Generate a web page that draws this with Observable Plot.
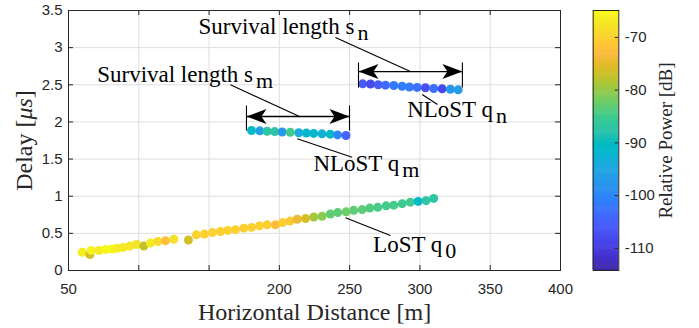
<!DOCTYPE html>
<html><head><meta charset="utf-8">
<script src="https://cdn.jsdelivr.net/npm/d3@7"></script>
<script src="https://cdn.jsdelivr.net/npm/@observablehq/plot@0.6"></script>
<style>
body{margin:0;background:#fff;}
#fig{position:relative;width:699px;height:328px;overflow:hidden;}
#fig svg{position:absolute;top:0;}
</style></head><body><div id="fig"></div>
<script>
// ---- data ----
const losX = [59.7, 65.2, 66.1, 71.6, 76.3, 81.1, 84.6, 88.9, 93.6, 98.4, 103.6, 108.3, 113.5, 119.0, 124.9, 135.3, 141.0, 146.7, 152.4, 158.1, 163.3, 168.8, 174.7, 180.2, 185.8, 191.3, 197.2, 202.2, 207.5, 212.7, 218.6, 224.5, 230.4, 236.3, 241.5, 247.5, 252.9, 258.9, 264.3, 270.0, 276.0, 281.4, 287.4, 293.2, 298.7, 304.4, 309.8];
const losDelay = [0.246, 0.215, 0.27, 0.27, 0.283, 0.29, 0.30, 0.31, 0.33, 0.35, 0.33, 0.37, 0.39, 0.40, 0.42, 0.41, 0.48, 0.49, 0.51, 0.525, 0.54, 0.55, 0.57, 0.58, 0.60, 0.615, 0.615, 0.645, 0.665, 0.69, 0.70, 0.72, 0.73, 0.76, 0.78, 0.79, 0.81, 0.82, 0.84, 0.85, 0.87, 0.88, 0.90, 0.92, 0.93, 0.94, 0.97];
const losPower = [-66.5, -76.5, -66, -67.3, -65.5, -65.3, -66.8, -67.3, -67.5, -68, -77.5, -67, -69, -72.5, -68.5, -76.5, -70.2, -70.2, -70, -70.2, -70.2, -70.2, -70.5, -70.2, -70.2, -70.5, -73, -70.5, -71, -74.5, -76.2, -79.2, -80.7, -83.1, -83.4, -82.4, -83.4, -83.4, -84.1, -84.6, -84.9, -84.9, -85.4, -85.4, -90.8, -87.1, -87.1];

const qmX = [180.2, 186.1, 191.3, 196.7, 202.0, 207.8, 213.8, 219.2, 224.4, 230.3, 236.2, 241.4, 247.4];
const qmDelay = [1.885, 1.88, 1.875, 1.87, 1.865, 1.86, 1.855, 1.85, 1.845, 1.84, 1.835, 1.825, 1.818];
const qmPower = [-91, -96, -87, -87.5, -97, -85, -94, -92, -92, -93, -91, -100, -105];

const qnX = [259.3, 264.8, 270.3, 275.5, 281.4, 287.3, 292.5, 298.0, 303.9, 309.8, 315.8, 321.7, 327.2];
const qnDelay = [2.513, 2.51, 2.50, 2.495, 2.49, 2.48, 2.47, 2.465, 2.46, 2.45, 2.445, 2.44, 2.432];
const qnPower = [-106, -108.5, -106, -104, -102, -101.5, -101.5, -103, -107.5, -103, -108.5, -97.5, -97];

const xTicks = [50, 100, 150, 200, 250, 300, 350, 400];
const xTickLabels = ["50", "", "", "200", "250", "300", "350", "400"];
const yTicks = [0, 0.5, 1, 1.5, 2, 2.5, 3, 3.5];
const yTickLabels = ["0", "0.5", "1", "1.5", "2", "2.5", "3", "3.5"];
const cTicks = [-110, -100, -90, -80, -70];
const powerDomain = [-114.2, -64.9];

const xLabel = "Horizontal Distance [m]";
const yLabel = "Delay [μs]";
const cLabel = "Relative Power [dB]";

// annotations (data coordinates)
const annoText = ["Survival length s", "Survival length s", "NLoST q", "NLoST q", "LoST q"];
const annoSub = ["n", "m", "n", "m", "0"];
const annoX = [142.5, 70.4, 290.9, 224.2, 266.7];
const annoY = [3.19, 2.544, 2.063, 1.336, 0.246];
const leaderX1 = [239.9, 165.2, 301.6, 212.7, 247.0];
const leaderY1 = [3.136, 2.499, 2.369, 1.773, 0.709];
const leaderX2 = [293.2, 214.3, 312.5, 251.8, 279.0];
const leaderY2 = [2.678, 2.073, 2.234, 1.525, 0.471];
const spanStart = [256.3, 176.6];
const spanEnd = [330.2, 249.9];
const spanY = [2.678, 2.073];
const spanBarLow = [2.463, 1.884];
const spanBarHigh = [2.80, 2.221];

// parula colormap
const parula = [[0.2422,0.1504,0.6603],[0.2504,0.1650,0.7076],[0.2578,0.1818,0.7511],[0.2647,0.1978,0.7952],[0.2706,0.2147,0.8364],[0.2751,0.2342,0.8710],[0.2783,0.2559,0.8991],[0.2803,0.2782,0.9221],[0.2813,0.3006,0.9414],[0.2810,0.3228,0.9579],[0.2795,0.3447,0.9717],[0.2760,0.3667,0.9829],[0.2699,0.3892,0.9906],[0.2602,0.4123,0.9952],[0.2440,0.4358,0.9988],[0.2206,0.4603,0.9973],[0.1963,0.4847,0.9892],[0.1834,0.5074,0.9798],[0.1786,0.5289,0.9682],[0.1764,0.5499,0.9520],[0.1687,0.5703,0.9359],[0.1540,0.5902,0.9218],[0.1460,0.6091,0.9079],[0.1380,0.6276,0.8973],[0.1248,0.6459,0.8883],[0.1113,0.6635,0.8763],[0.0952,0.6798,0.8598],[0.0689,0.6948,0.8394],[0.0297,0.7082,0.8163],[0.0036,0.7203,0.7917],[0.0067,0.7312,0.7660],[0.0433,0.7411,0.7394],[0.0964,0.7500,0.7120],[0.1408,0.7584,0.6842],[0.1717,0.7670,0.6554],[0.1938,0.7758,0.6251],[0.2161,0.7843,0.5923],[0.2470,0.7918,0.5567],[0.2906,0.7973,0.5188],[0.3406,0.8008,0.4789],[0.3909,0.8029,0.4354],[0.4456,0.8024,0.3909],[0.5044,0.7993,0.3480],[0.5616,0.7942,0.3045],[0.6174,0.7876,0.2612],[0.6720,0.7793,0.2227],[0.7242,0.7698,0.1910],[0.7738,0.7598,0.1646],[0.8203,0.7498,0.1535],[0.8634,0.7406,0.1596],[0.9035,0.7330,0.1774],[0.9393,0.7288,0.2100],[0.9728,0.7298,0.2394],[0.9956,0.7434,0.2371],[0.9970,0.7659,0.2199],[0.9952,0.7893,0.2028],[0.9892,0.8136,0.1885],[0.9786,0.8386,0.1766],[0.9676,0.8639,0.1643],[0.9610,0.8890,0.1537],[0.9597,0.9135,0.1423],[0.9628,0.9373,0.1265],[0.9691,0.9606,0.1064],[0.9769,0.9839,0.0805]]
  .map(([r,g,b]) => d3.rgb(r*255, g*255, b*255).formatHex());
const parulaInterp = d3.piecewise(d3.interpolateRgb, parula);

// ---- tables ----
const points = [
  ...losX.map((x, i) => ({x, delay: losDelay[i], power: losPower[i]})),
  ...qmX.map((x, i) => ({x, delay: qmDelay[i], power: qmPower[i]})),
  ...qnX.map((x, i) => ({x, delay: qnDelay[i], power: qnPower[i]}))
];
const annos = annoText.map((t, i) => ({t, x: annoX[i], y: annoY[i]}));
const leaders = leaderX1.map((x1, i) => ({x1, y1: leaderY1[i], x2: leaderX2[i], y2: leaderY2[i]}));
const spans = spanStart.map((s, i) => ({s, e: spanEnd[i], y: spanY[i], lo: spanBarLow[i], hi: spanBarHigh[i]}));
const heads = spans.flatMap(d => [{x: d.s, y: d.y, rot: 180}, {x: d.e, y: d.y, rot: 0}]);

const arrowHead = {draw(ctx) { ctx.moveTo(0, 0); ctx.lineTo(-20, -7.5); ctx.lineTo(-15, 0); ctx.lineTo(-20, 7.5); ctx.closePath(); }};
const ink = "#262626";
const serif = "Liberation Serif";
const colorScale = {type: "linear", domain: powerDomain, interpolate: parulaInterp};

const main = Plot.plot({
  width: 580, height: 328,
  marginLeft: 68, marginRight: 20, marginTop: 10, marginBottom: 58,
  x: {domain: [50, 400]},
  y: {domain: [0, 3.5]},
  color: colorScale,
  style: {fontFamily: "Liberation Sans", fontSize: "15px", color: ink, background: "white", overflow: "visible"},
  marks: [
    Plot.gridX(xTicks, {stroke: "#dedede", strokeOpacity: 1}),
    Plot.gridY(yTicks, {stroke: "#dedede", strokeOpacity: 1}),
    Plot.axisX(xTicks, {tickSize: 0, tickPadding: 13, tickFormat: d => xTickLabels[xTicks.indexOf(d)], label: null}),
    Plot.axisY(yTicks, {tickSize: 0, tickPadding: 6, tickFormat: d => yTickLabels[yTicks.indexOf(d)], label: null}),
    Plot.tickX(xTicks, {x: d => d, insetTop: 255, stroke: ink}),
    Plot.tickX(xTicks, {x: d => d, insetBottom: 255, stroke: ink}),
    Plot.tickY(yTicks, {y: d => d, insetRight: 487, stroke: ink}),
    Plot.tickY(yTicks, {y: d => d, insetLeft: 487, stroke: ink}),
    Plot.frame({stroke: ink}),
    Plot.dot(points, {x: "x", y: "delay", fill: "power", r: 4.5}),
    Plot.link(leaders, {x1: "x1", y1: "y1", x2: "x2", y2: "y2", stroke: "black", strokeWidth: 1.1}),
    Plot.link(spans, {x1: "s", x2: "e", y1: "y", y2: "y", stroke: "black", strokeWidth: 1.3}),
    Plot.link(spans, {x1: "s", x2: "s", y1: "lo", y2: "hi", stroke: "black", strokeWidth: 1.1}),
    Plot.link(spans, {x1: "e", x2: "e", y1: "lo", y2: "hi", stroke: "black", strokeWidth: 1.1}),
    Plot.dot(heads, {x: "x", y: "y", rotate: "rot", symbol: arrowHead, fill: "black", stroke: "none", r: 5}),
    Plot.text(annos, {x: "x", y: "y", text: "t", textAnchor: "start", lineAnchor: "bottom", fontFamily: serif, fontSize: 23, fill: "black"}),
    Plot.text([xLabel], {frameAnchor: "bottom", dy: 49.3, textAnchor: "middle", lineAnchor: "bottom", fontFamily: serif, fontSize: 24, fill: ink}),
    Plot.text([yLabel], {frameAnchor: "left", dx: -36.3, rotate: -90, textAnchor: "middle", lineAnchor: "bottom", fontFamily: serif, fontSize: 24, fill: ink})
  ]
});

const SVGNS = "http://www.w3.org/2000/svg";
// subscripts on annotations (matched by content, in document order)
let ai = 0;
main.querySelectorAll("text").forEach(el => {
  if (ai < annoText.length && el.textContent === annoText[ai]) {
    const ts = document.createElementNS(SVGNS, "tspan");
    ts.setAttribute("dx", "3");
    ts.setAttribute("dy", "6");
    ts.setAttribute("font-size", "22");
    ts.textContent = annoSub[ai];
    el.appendChild(ts);
    ai++;
  } else if (el.textContent === yLabel) {
    const k = yLabel.indexOf("μs");
    el.textContent = yLabel.slice(0, k);
    const it = document.createElementNS(SVGNS, "tspan");
    it.setAttribute("font-style", "italic");
    it.textContent = "μs";
    el.appendChild(it);
    el.appendChild(document.createTextNode(yLabel.slice(k + 2)));
  }
});

// colorbar
const step = 0.2;
const steps = d3.range(powerDomain[0], powerDomain[1], step);
const cbar = Plot.plot({
  width: 139, height: 328,
  marginLeft: 32.7, marginRight: 80.7, marginTop: 10, marginBottom: 58,
  x: {domain: [0, 1], axis: null},
  y: {domain: powerDomain},
  color: colorScale,
  style: {fontFamily: "Liberation Sans", fontSize: "15px", color: ink, background: "transparent", overflow: "visible"},
  marks: [
    Plot.rect(steps, {x1: 0, x2: 1, y1: d => d, y2: d => Math.min(d + step * 1.6, powerDomain[1]), fill: d => d}),
    Plot.ruleY(cTicks, {y: d => d, x1: 0.86, x2: 1, stroke: ink}),
    Plot.frame({stroke: ink}),
    Plot.axisY(cTicks, {anchor: "right", tickSize: 0, tickPadding: 6, tickFormat: d => String(d), label: null}),
    Plot.text([cLabel], {frameAnchor: "right", dx: 53, rotate: -90, textAnchor: "middle", lineAnchor: "bottom", fontFamily: serif, fontSize: 19, fill: ink})
  ]
});

const fig = document.getElementById("fig");
main.style.left = "0px";
cbar.style.left = "560px";
fig.appendChild(main);
fig.appendChild(cbar);
</script>
</body></html>
